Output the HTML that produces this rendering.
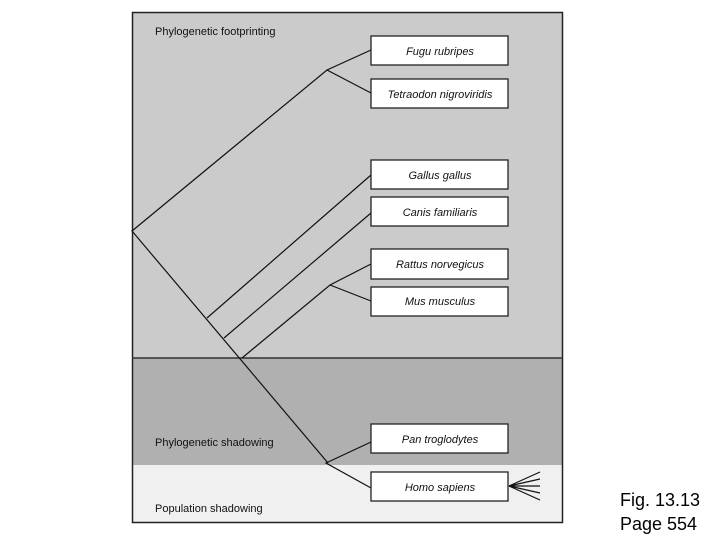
<!DOCTYPE html>
<html><head><style>
body{margin:0;width:720px;height:540px;background:#fff;overflow:hidden;position:relative;font-family:"Liberation Sans",sans-serif}
svg{position:absolute;left:0;top:0}
</style></head><body>
<svg width="720" height="540" viewBox="0 0 720 540">
<rect x="132" y="12" width="431" height="346" fill="#cbcbcb"/>
<rect x="132" y="358" width="431" height="107" fill="#b0b0b0"/>
<rect x="132" y="465" width="431" height="58" fill="#f0f0f0"/>
<rect x="132.5" y="12.5" width="430" height="510" fill="none" stroke="#222" stroke-width="1.5"/>
<line x1="132" y1="358" x2="563" y2="358" stroke="#333" stroke-width="1.5"/>
<g stroke="#111" stroke-width="1.2" fill="none">
<polyline points="371,50 327,70 132,231 328,463"/>
<line x1="327" y1="70" x2="371" y2="93"/>
<line x1="207" y1="318" x2="371" y2="175"/>
<line x1="224" y1="338" x2="371" y2="213"/>
<polyline points="242,358 330,285 371,264"/>
<line x1="330" y1="285" x2="371" y2="301"/>
<polyline points="371,442 326,463 371,488"/>
<line x1="509" y1="486" x2="540" y2="472"/>
<line x1="509" y1="486" x2="540" y2="479"/>
<line x1="509" y1="486" x2="540" y2="486"/>
<line x1="509" y1="486" x2="540" y2="493"/>
<line x1="509" y1="486" x2="540" y2="500"/>
</g>
<g fill="#fff" stroke="#222" stroke-width="1.3">
<rect x="371" y="36" width="137" height="29"/>
<rect x="371" y="79" width="137" height="29"/>
<rect x="371" y="160" width="137" height="29"/>
<rect x="371" y="197" width="137" height="29"/>
<rect x="371" y="249" width="137" height="30"/>
<rect x="371" y="287" width="137" height="29"/>
<rect x="371" y="424" width="137" height="29"/>
<rect x="371" y="472" width="137" height="29"/>
</g>
<g font-family="Liberation Sans, sans-serif" font-size="11" font-style="italic" text-anchor="middle" fill="#111">
<text x="440" y="55">Fugu rubripes</text>
<text x="440" y="98">Tetraodon nigroviridis</text>
<text x="440" y="179">Gallus gallus</text>
<text x="440" y="216">Canis familiaris</text>
<text x="440" y="268">Rattus norvegicus</text>
<text x="440" y="305">Mus musculus</text>
<text x="440" y="443">Pan troglodytes</text>
<text x="440" y="491">Homo sapiens</text>
</g>
<g font-family="Liberation Sans, sans-serif" font-size="11" fill="#111">
<text x="155" y="35">Phylogenetic footprinting</text>
<text x="155" y="446">Phylogenetic shadowing</text>
<text x="155" y="512">Population shadowing</text>
</g>
<g font-family="Liberation Sans, sans-serif" font-size="18" fill="#000">
<text x="620" y="506">Fig. 13.13</text>
<text x="620" y="530">Page 554</text>
</g>
</svg>
</body></html>
